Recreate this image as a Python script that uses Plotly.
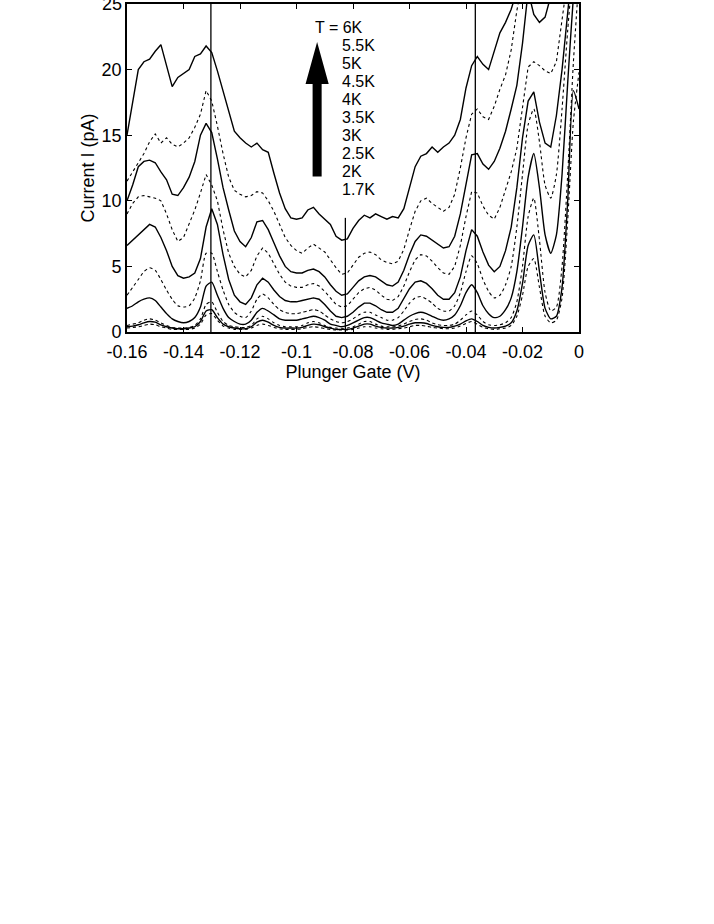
import plotly.graph_objects as go

# ---------------- data ----------------
gate_v = [round(-0.160 + 0.002 * k, 3) for k in range(81)]  # Plunger gate (V)

i_6K = [15.0, 17.6, 20.0, 20.6, 20.8, 21.4, 21.9, 20.3, 18.7, 19.4,
        19.7, 20.0, 21.0, 21.2, 21.8, 21.3, 19.9, 18.4, 16.8, 15.3,
        14.8, 14.4, 14.1, 14.4, 13.9, 13.7, 12.1, 10.6, 9.4, 8.7,
        8.6, 8.7, 9.3, 9.5, 9.0, 8.6, 8.2, 7.3, 7.0, 7.1,
        7.9, 8.5, 8.9, 8.7, 9.0, 8.8, 8.6, 8.8, 8.7, 9.4,
        11.1, 12.6, 13.4, 13.6, 14.1, 13.7, 14.1, 14.4, 15.0, 16.2,
        18.6, 20.3, 21.0, 20.4, 20.0, 21.4, 22.8, 23.6, 24.6, 26.0,
        28.0, 30.0, 31.0, 30.5, 30.0, 30.0, 31.0, 33.0, 36.0, 40.0, 42.0]

i_5p5K = [11.5, 12.2, 12.8, 13.6, 14.5, 15.1, 14.4, 14.8, 14.3, 14.1,
          14.4, 14.8, 15.6, 16.6, 18.4, 17.6, 15.7, 13.6, 11.8, 10.8,
          10.5, 10.3, 10.4, 10.7, 10.6, 10.0, 9.2, 8.2, 7.2, 6.6,
          6.2, 6.0, 6.4, 6.7, 6.4, 6.1, 5.5, 4.9, 4.4, 4.5,
          5.1, 5.7, 6.0, 6.1, 5.9, 5.5, 5.3, 5.2, 5.4, 6.3,
          7.8, 9.2, 10.0, 10.2, 9.8, 9.5, 9.2, 9.5, 10.5, 12.5,
          14.8, 16.6, 17.0, 16.4, 16.2, 17.2, 18.5, 19.6, 21.5, 24.5,
          27.0, 29.0, 30.0, 29.0, 28.0, 28.0, 30.0, 32.0, 35.0, 38.0, 40.0]

i_5K = [10.0, 11.2, 12.6, 13.0, 13.1, 12.9, 12.2, 11.6, 10.5, 10.4,
        11.0, 11.8, 13.0, 15.0, 15.9, 15.2, 13.2, 11.0, 9.3, 7.7,
        6.9, 6.5, 7.2, 8.4, 8.5, 7.8, 6.8, 5.8, 5.0, 4.6,
        4.5, 4.5, 4.7, 4.8, 4.6, 4.2, 3.6, 3.1, 2.8, 2.9,
        3.4, 3.9, 4.2, 4.3, 4.2, 3.9, 3.6, 3.5, 3.8, 4.7,
        5.9, 6.9, 7.4, 7.3, 7.0, 6.7, 6.4, 6.5, 7.3, 9.0,
        11.4, 13.5, 13.6, 12.8, 12.4, 13.0, 14.0, 15.3, 17.0, 18.8,
        22.0, 26.0, 24.2, 23.6, 24.0, 25.6, 28.0, 31.0, 34.0, 37.0, 40.0]

i_4p5K = [9.0, 9.8, 10.3, 10.4, 10.3, 10.2, 10.0, 9.0, 7.8, 6.9,
          7.2, 8.2, 9.3, 10.6, 12.0, 11.2, 10.0, 7.8, 6.0, 5.0,
          4.4, 4.2, 4.7, 5.8, 6.4, 6.0, 5.2, 4.4, 3.8, 3.5,
          3.4, 3.4, 3.6, 3.7, 3.5, 3.1, 2.6, 2.1, 1.9, 2.0,
          2.5, 3.0, 3.3, 3.4, 3.2, 2.8, 2.5, 2.4, 2.7, 3.5,
          4.6, 5.5, 5.9, 5.8, 5.4, 4.9, 4.5, 4.4, 5.0, 6.6,
          8.8, 10.7, 10.6, 9.6, 8.9, 8.6, 9.5, 10.8, 12.2, 14.0,
          17.2, 20.2, 20.6, 20.3, 19.9, 19.7, 20.6, 23.5, 27.0, 31.0, 35.0]

i_4K = [6.6, 7.0, 7.4, 7.8, 8.2, 8.0, 7.2, 6.2, 5.0, 4.3,
        4.1, 4.2, 4.5, 5.6, 8.0, 9.4, 8.2, 5.9, 4.0, 2.8,
        2.3, 2.1, 2.6, 3.6, 4.1, 3.8, 3.2, 2.7, 2.4, 2.3,
        2.3, 2.4, 2.5, 2.6, 2.5, 2.1, 1.6, 1.2, 1.1, 1.2,
        1.5, 1.9, 2.2, 2.2, 2.0, 1.7, 1.5, 1.5, 1.8, 2.5,
        3.3, 3.8, 3.9, 3.7, 3.3, 2.8, 2.5, 2.5, 3.0, 4.2,
        6.2, 7.8, 7.3, 6.1, 5.1, 4.6, 5.0, 6.2, 8.0, 11.0,
        14.8, 17.6, 18.3, 16.0, 14.4, 14.1, 16.5, 20.0, 24.5, 29.0, 33.0]

i_3p5K = [2.8, 3.4, 4.0, 4.6, 4.9, 4.7, 4.0, 3.2, 2.5, 2.0,
          1.9, 2.0, 2.6, 3.9, 6.0, 6.0, 4.6, 3.2, 2.1, 1.5,
          1.2, 1.1, 1.6, 2.5, 2.9, 2.6, 2.1, 1.7, 1.5, 1.4,
          1.4, 1.5, 1.6, 1.7, 1.6, 1.3, 1.0, 0.8, 0.7, 0.8,
          1.0, 1.3, 1.5, 1.5, 1.3, 1.1, 0.9, 0.9, 1.1, 1.6,
          2.2, 2.6, 2.7, 2.5, 2.2, 1.8, 1.6, 1.6, 2.0, 3.0,
          4.6, 5.8, 5.2, 4.0, 3.1, 2.6, 2.8, 3.6, 5.0, 8.0,
          12.0, 15.8, 17.0, 14.5, 11.2, 10.2, 12.0, 17.0, 23.0, 28.0, 32.0]

i_3K = [1.8, 2.0, 2.3, 2.5, 2.6, 2.4, 1.9, 1.4, 1.0, 0.8,
        0.7, 0.8, 1.1, 1.9, 3.5, 3.8, 2.8, 1.8, 1.1, 0.8,
        0.6, 0.6, 0.9, 1.5, 1.8, 1.6, 1.3, 1.0, 0.9, 0.9,
        0.9, 1.0, 1.1, 1.2, 1.1, 0.9, 0.6, 0.5, 0.4, 0.5,
        0.7, 0.9, 1.1, 1.1, 0.9, 0.7, 0.6, 0.5, 0.6, 0.9,
        1.2, 1.4, 1.5, 1.4, 1.2, 1.0, 0.9, 1.0, 1.3, 2.0,
        3.0, 3.6, 3.0, 2.0, 1.4, 1.1, 1.2, 1.7, 2.6, 4.6,
        8.0, 11.8, 13.6, 11.0, 7.4, 6.0, 7.4, 12.0, 19.0, 25.5, 30.0]

i_2p5K = [0.5, 0.6, 0.7, 0.9, 1.0, 0.9, 0.7, 0.5, 0.35, 0.3,
          0.3, 0.35, 0.5, 1.0, 2.1, 2.3, 1.5, 0.8, 0.5, 0.4,
          0.35, 0.35, 0.5, 1.0, 1.2, 1.0, 0.7, 0.5, 0.4, 0.4,
          0.4, 0.5, 0.7, 0.8, 0.7, 0.5, 0.35, 0.3, 0.25, 0.3,
          0.4, 0.6, 0.8, 0.8, 0.6, 0.45, 0.4, 0.4, 0.45, 0.6,
          0.8, 0.95, 1.0, 0.9, 0.7, 0.55, 0.5, 0.5, 0.6, 0.9,
          1.3, 1.6, 1.3, 0.8, 0.55, 0.5, 0.55, 0.7, 1.1, 2.3,
          5.0, 8.8, 10.2, 7.0, 3.0, 1.6, 1.9, 5.0, 12.0, 20.5, 27.0]

i_2K = [0.4, 0.45, 0.55, 0.7, 0.8, 0.75, 0.55, 0.4, 0.3, 0.25,
        0.25, 0.3, 0.4, 0.8, 1.6, 1.7, 1.1, 0.6, 0.4, 0.3,
        0.25, 0.25, 0.4, 0.75, 0.9, 0.75, 0.5, 0.35, 0.3, 0.3,
        0.3, 0.35, 0.5, 0.6, 0.55, 0.4, 0.3, 0.2, 0.2, 0.2,
        0.3, 0.45, 0.6, 0.6, 0.45, 0.35, 0.3, 0.3, 0.35, 0.45,
        0.6, 0.7, 0.7, 0.65, 0.5, 0.4, 0.35, 0.35, 0.45, 0.6,
        0.85, 1.0, 0.8, 0.5, 0.35, 0.3, 0.35, 0.45, 0.7, 1.6,
        3.7, 6.6, 7.4, 4.6, 1.8, 1.0, 1.2, 3.4, 10.0, 18.4, 17.0]

i_1p7K = [0.3, 0.35, 0.4, 0.5, 0.6, 0.55, 0.4, 0.3, 0.2, 0.2,
          0.2, 0.2, 0.3, 0.6, 1.3, 1.4, 0.9, 0.45, 0.3, 0.2,
          0.2, 0.2, 0.3, 0.5, 0.6, 0.5, 0.35, 0.25, 0.2, 0.2,
          0.2, 0.25, 0.35, 0.4, 0.35, 0.25, 0.2, 0.15, 0.15, 0.15,
          0.2, 0.3, 0.4, 0.4, 0.3, 0.25, 0.2, 0.2, 0.25, 0.3,
          0.4, 0.5, 0.5, 0.45, 0.35, 0.3, 0.25, 0.25, 0.3, 0.45,
          0.65, 0.8, 0.6, 0.35, 0.25, 0.2, 0.25, 0.3, 0.5, 1.2,
          2.8, 5.0, 5.6, 3.4, 1.2, 0.7, 0.9, 2.6, 8.5, 16.0, 19.8]

temp_labels = ["T = 6K", "5.5K", "5K", "4.5K", "4K", "3.5K", "3K", "2.5K", "2K", "1.7K"]
curves = [i_6K, i_5p5K, i_5K, i_4p5K, i_4K, i_3p5K, i_3K, i_2p5K, i_2K, i_1p7K]

x_tick_vals = [-0.16, -0.14, -0.12, -0.10, -0.08, -0.06, -0.04, -0.02, 0.0]
x_tick_text = ["-0.16", "-0.14", "-0.12", "-0.1", "-0.08", "-0.06", "-0.04", "-0.02", "0"]
y_tick_vals = [0, 5, 10, 15, 20]
y_top = 25

guide_full_v = [-0.1303, -0.0367]   # vertical guide lines (full height)
guide_short_v = -0.0827             # short guide line
guide_short_top = 8.7

# ---------------- figure ----------------
FONT = "Liberation Sans, Arial, Helvetica, sans-serif"
fig = go.Figure()

for idx, (lab, ys) in enumerate(zip(temp_labels, curves)):
    solid = (idx % 2 == 0)
    smooth = idx >= 5
    fig.add_trace(go.Scatter(
        x=gate_v, y=ys, mode="lines", name=lab, showlegend=False,
        line=dict(color="black", width=1.4 if solid else 1.1,
                  dash="solid" if solid else "dot",
                  shape="spline" if smooth else "linear",
                  smoothing=0.6 if smooth else None),
        hoverinfo="skip"))

shapes = []
for gx in guide_full_v:
    shapes.append(dict(type="line", xref="x", yref="y", x0=gx, x1=gx, y0=0, y1=y_top,
                       line=dict(color="black", width=1.3)))
shapes.append(dict(type="line", xref="x", yref="y", x0=guide_short_v, x1=guide_short_v,
                   y0=0, y1=guide_short_top, line=dict(color="black", width=1.3)))

# big arrow (decoration)
ax = -0.0927
sw, hw = 0.0016, 0.0041
yb, yh, yt = 11.86, 18.9, 22.1
path = (f"M {ax-sw},{yb} L {ax+sw},{yb} L {ax+sw},{yh} L {ax+hw},{yh} "
        f"L {ax},{yt} L {ax-hw},{yh} L {ax-sw},{yh} Z")
shapes.append(dict(type="path", xref="x", yref="y", path=path,
                   fillcolor="black", line=dict(color="black", width=0)))

annotations = []
for i, lab in enumerate(temp_labels):
    annotations.append(dict(
        x=-0.0942 if i == 0 else -0.0846, y=23.22 - i * 1.37,
        xref="x", yref="y", text=lab, showarrow=False,
        xanchor="left", yanchor="middle",
        font=dict(family=FONT, size=16, color="black")))
# top y tick label (half cut by the page top, as in the reference)
annotations.append(dict(
    x=0, y=y_top, xref="paper", yref="y", text=str(y_top), showarrow=False,
    xanchor="right", yanchor="middle", xshift=-3,
    font=dict(family=FONT, size=18, color="black")))

fig.update_layout(
    width=714, height=924, autosize=False,
    margin=dict(l=127, r=135, t=2, b=592, pad=0),
    paper_bgcolor="white", plot_bgcolor="white",
    shapes=shapes, annotations=annotations,
    font=dict(family=FONT, size=18, color="black"),
)
fig.update_xaxes(
    range=[-0.16, 0], tickvals=x_tick_vals, ticktext=x_tick_text,
    ticks="inside", ticklen=5, tickwidth=1.2, tickcolor="black",
    showline=True, linecolor="black", linewidth=1.6, mirror="ticks",
    showgrid=False, zeroline=False, ticklabelstandoff=3,
    tickfont=dict(family=FONT, size=18),
    title=dict(text="Plunger Gate (V)", font=dict(family=FONT, size=18), standoff=4),
)
fig.update_yaxes(
    range=[0, y_top], tickvals=y_tick_vals,
    ticks="inside", ticklen=5, tickwidth=1.2, tickcolor="black",
    showline=True, linecolor="black", linewidth=1.6, mirror="ticks",
    showgrid=False, zeroline=False,
    tickfont=dict(family=FONT, size=18),
    title=dict(text="Current I (pA)", font=dict(family=FONT, size=18), standoff=2),
)

fig.write_html(
    "out.html",
    config={"displayModeBar": False},
    post_script="document.documentElement.style.margin='0';"
                "document.body.style.margin='0';document.body.style.padding='0';",
)
